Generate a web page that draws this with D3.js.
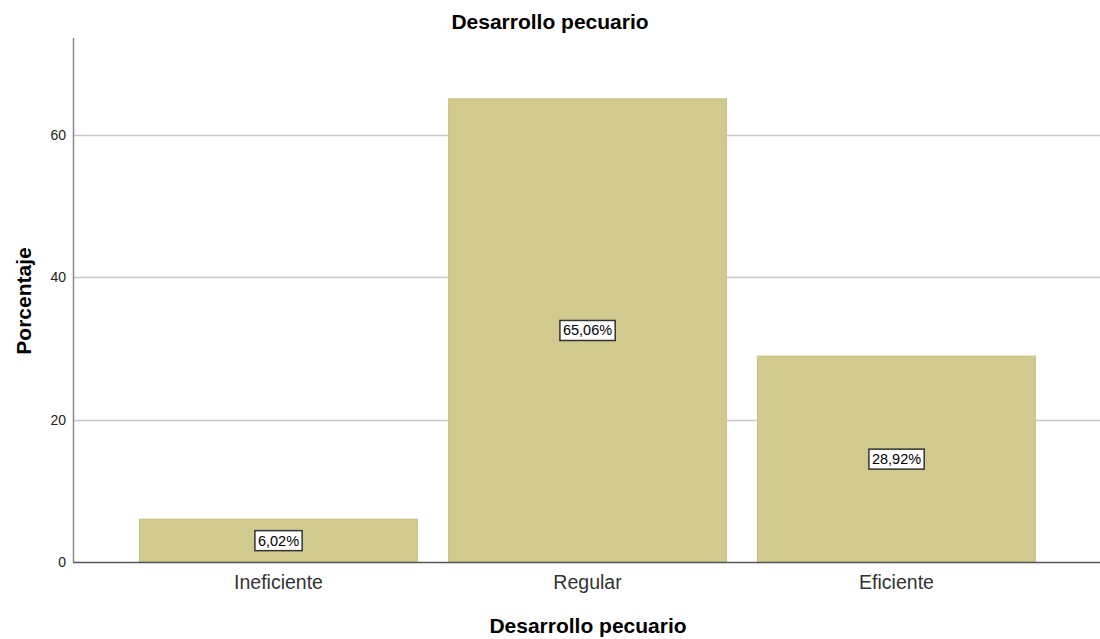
<!DOCTYPE html>
<html><head><meta charset="utf-8">
<script src="https://cdn.jsdelivr.net/npm/d3@7"></script>
<style>body{margin:0;background:#fff;}svg{display:block;font-family:"Liberation Sans",Arial,sans-serif;}</style>
</head><body>
<svg id="c" width="1100" height="639"></svg>
<script>
const categories = ["Ineficiente", "Regular", "Eficiente"];
const values = [6.02, 65.06, 28.92];
const labels = ["6,02%", "65,06%", "28,92%"];
const yTicks = [0, 20, 40, 60];
const title = "Desarrollo pecuario";
const xTitle = "Desarrollo pecuario";
const yTitle = "Porcentaje";

const svg = d3.select("#c");
const pLeft = 73, pRight = 1100, pTop = 38, pBottom = 562;
const y = d3.scaleLinear().domain([0, 73.6]).range([pBottom, pTop]);
const x = d3.scaleBand().domain(categories).range([pLeft, 1102]).paddingInner(0.1).paddingOuter(0.215);

// gridlines
svg.append("g").selectAll("line").data(yTicks.filter(d => d > 0)).join("line")
  .attr("x1", pLeft).attr("x2", pRight)
  .attr("y1", d => Math.round(y(d)) + 0.5).attr("y2", d => Math.round(y(d)) + 0.5)
  .attr("stroke", "#c8c8c8").attr("stroke-width", 1.5);

// bars
svg.append("g").selectAll("rect").data(values).join("rect")
  .attr("x", (d, i) => x(categories[i]))
  .attr("width", x.bandwidth())
  .attr("y", d => y(d))
  .attr("height", d => y(0) - y(d))
  .attr("fill", "#d1ca8f")
  .attr("stroke", "#c9c284").attr("stroke-width", 1);

// axes
const yAxis = d3.axisLeft(y).tickValues(yTicks).tickSize(0).tickPadding(7);
const gy = svg.append("g").attr("transform", `translate(${pLeft},0)`).call(yAxis);
gy.select(".domain").remove();
gy.selectAll("text").attr("font-size", 14).attr("fill", "#222").attr("font-family", "Liberation Sans, Arial, sans-serif");
svg.append("line").attr("x1", pLeft + 0.5).attr("x2", pLeft + 0.5).attr("y1", pTop).attr("y2", pBottom)
  .attr("stroke", "#8a8a8a").attr("stroke-width", 1.5);

const xAxis = d3.axisBottom(x).tickSize(0).tickPadding(13);
const gx = svg.append("g").attr("transform", `translate(0,${pBottom})`).call(xAxis);
gx.select(".domain").remove();
gx.selectAll("text").attr("font-size", 19.5).attr("fill", "#333").attr("font-family", "Liberation Sans, Arial, sans-serif");
svg.append("line").attr("x1", pLeft).attr("x2", pRight).attr("y1", pBottom + 0.5).attr("y2", pBottom + 0.5)
  .attr("stroke", "#555").attr("stroke-width", 1.5);

// value labels
const lg = svg.append("g").selectAll("g").data(values).join("g")
  .attr("transform", (d, i) => `translate(${x(categories[i]) + x.bandwidth() / 2},${y(d / 2)})`);
lg.append("text").text((d, i) => labels[i])
  .attr("text-anchor", "middle").attr("dy", "0.35em")
  .attr("font-size", 14.5).attr("fill", "#000")
  .each(function () {
    const b = this.getBBox();
    d3.select(this.parentNode).insert("rect", "text")
      .attr("x", b.x - 3).attr("y", b.y - 2).attr("width", b.width + 6).attr("height", b.height + 4)
      .attr("fill", "#fff").attr("stroke", "#333").attr("stroke-width", 1.5);
  });

// titles
svg.append("text").attr("x", 550).attr("y", 29).attr("text-anchor", "middle")
  .attr("font-size", 21).attr("font-weight", "bold").attr("fill", "#000").text(title);
svg.append("text").attr("x", 588).attr("y", 633).attr("text-anchor", "middle")
  .attr("font-size", 21).attr("font-weight", "bold").attr("fill", "#000").text(xTitle);
svg.append("text").attr("transform", "translate(31,301) rotate(-90)").attr("text-anchor", "middle")
  .attr("font-size", 21).attr("font-weight", "bold").attr("fill", "#000").text(yTitle);
</script>
</body></html>
